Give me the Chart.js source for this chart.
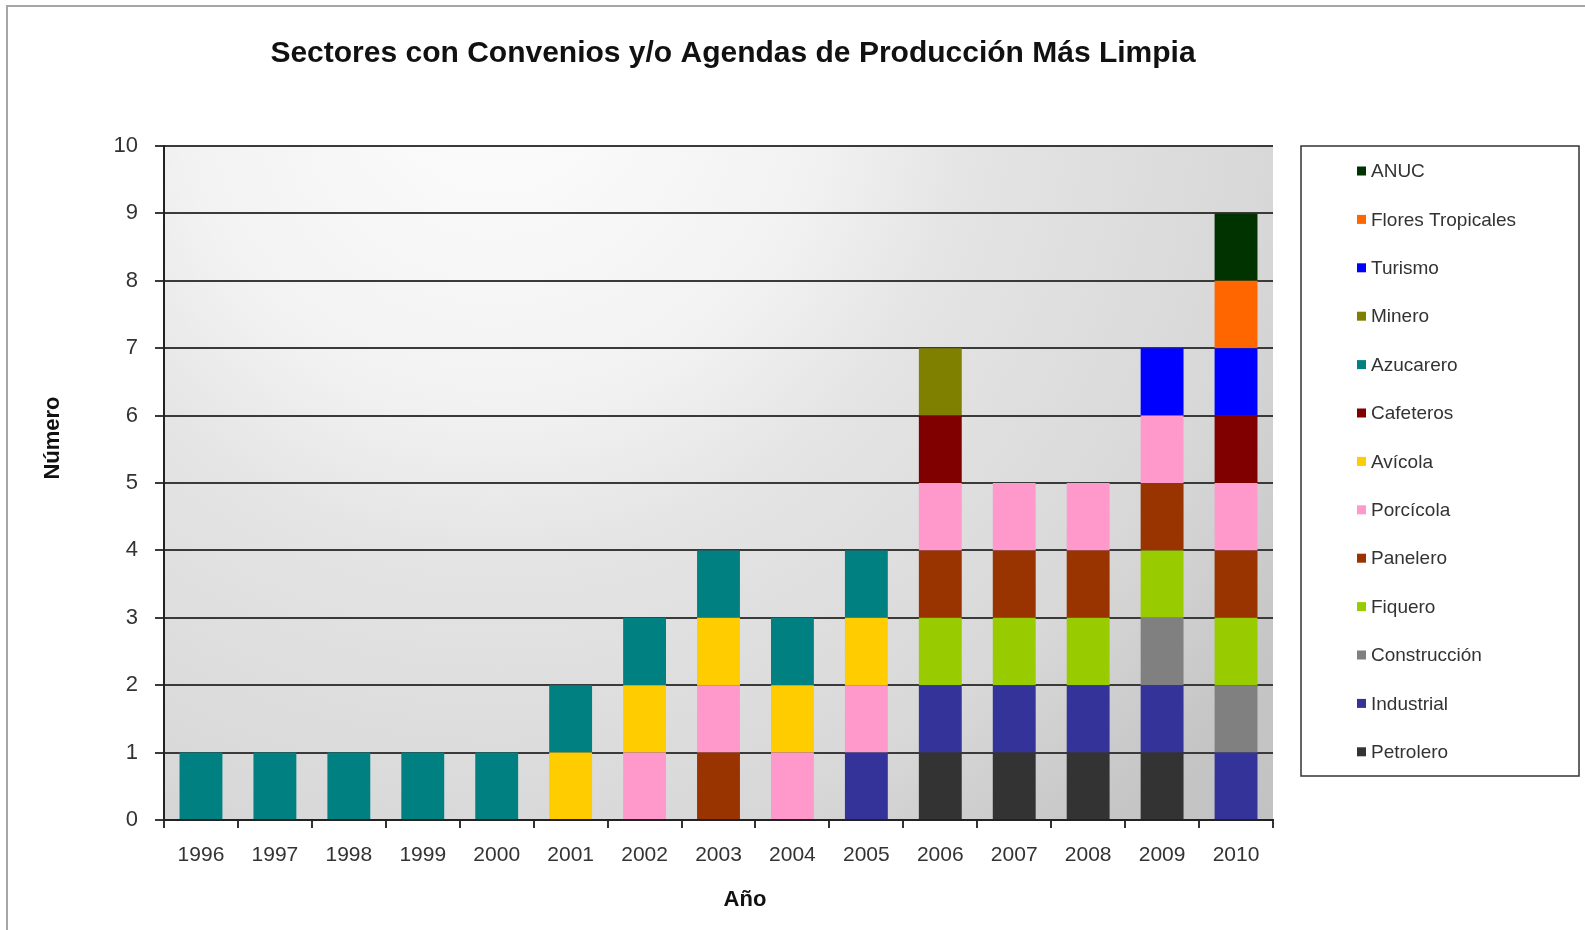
<!DOCTYPE html>
<html>
<head>
<meta charset="utf-8">
<script src="https://cdn.jsdelivr.net/npm/chart.js@4.4.1/dist/chart.umd.min.js"></script>
<style>
  html, body { margin:0; padding:0; background:#fff; }
  #wrap { width:1585px; height:930px; position:relative; }
</style>
</head>
<body>
<div id="wrap"><canvas id="c"></canvas></div>
<script>
// Sectores con convenios / agendas PML por año (stacked, one unit per sector)
const anios = ["1996","1997","1998","1999","2000","2001","2002","2003","2004","2005","2006","2007","2008","2009","2010"];
const petrolero    = [0,0,0,0,0,0,0,0,0,0,1,1,1,1,0];
const industrial   = [0,0,0,0,0,0,0,0,0,1,1,1,1,1,1];
const construccion = [0,0,0,0,0,0,0,0,0,0,0,0,0,1,1];
const fiquero      = [0,0,0,0,0,0,0,0,0,0,1,1,1,1,1];
const panelero     = [0,0,0,0,0,0,0,1,0,0,1,1,1,1,1];
const porcicola    = [0,0,0,0,0,0,1,1,1,1,1,1,1,1,1];
const avicola      = [0,0,0,0,0,1,1,1,1,1,0,0,0,0,0];
const cafeteros    = [0,0,0,0,0,0,0,0,0,0,1,0,0,0,1];
const azucarero    = [1,1,1,1,1,1,1,1,1,1,0,0,0,0,0];
const minero       = [0,0,0,0,0,0,0,0,0,0,1,0,0,0,0];
const turismo      = [0,0,0,0,0,0,0,0,0,0,0,0,0,1,1];
const flores       = [0,0,0,0,0,0,0,0,0,0,0,0,0,0,1];
const anuc         = [0,0,0,0,0,0,0,0,0,0,0,0,0,0,1];
const yTicks = [0,1,2,3,4,5,6,7,8,9,10];

const FONT = "'Liberation Sans', Arial, sans-serif";
const sectores = [
  ["Petrolero", petrolero, "#333333"],
  ["Industrial", industrial, "#333399"],
  ["Construcción", construccion, "#808080"],
  ["Fiquero", fiquero, "#99cc00"],
  ["Panelero", panelero, "#993300"],
  ["Porcícola", porcicola, "#ff99cc"],
  ["Avícola", avicola, "#ffcc00"],
  ["Cafeteros", cafeteros, "#800000"],
  ["Azucarero", azucarero, "#008080"],
  ["Minero", minero, "#808000"],
  ["Turismo", turismo, "#0000ff"],
  ["Flores Tropicales", flores, "#ff6600"],
  ["ANUC", anuc, "#003300"]
];

// background, frame, titles and boxed legend (Excel look)
const deco = {
  id: "deco",
  beforeDraw(ch) {
    const {ctx, chartArea: a} = ch;
    ctx.save();
    ctx.strokeStyle = "#a6a6a6"; ctx.lineWidth = 2;
    ctx.strokeRect(7, 6, ch.width + 20, ch.height + 20);
    // light spot near the top, darker towards the bottom right
    const cx = a.left + a.width * 0.3, cy = a.top - a.height * 0.1;
    const g = ctx.createRadialGradient(cx, cy, 0, cx, cy, Math.hypot(a.right - cx, a.bottom - cy));
    g.addColorStop(0, "#fdfdfd"); g.addColorStop(0.3, "#f2f2f2");
    g.addColorStop(0.45, "#e4e4e4"); g.addColorStop(0.72, "#d8d8d8"); g.addColorStop(0.9, "#c5c5c5");
    g.addColorStop(1, "#c2c2c2");
    ctx.fillStyle = g;
    ctx.fillRect(a.left, a.top, a.width, a.height);
    ctx.restore();
  },
  afterDraw(ch) {
    const {ctx, chartArea: a} = ch;
    ctx.save();
    ctx.fillStyle = "#111";
    ctx.textAlign = "center"; ctx.textBaseline = "middle";
    ctx.font = "bold 30px " + FONT;
    ctx.fillText("Sectores con Convenios y/o Agendas de Producción Más Limpia", 733, 54);
    ctx.font = "bold 22px " + FONT;
    ctx.fillText("Año", 745, 900);
    ctx.translate(53, 438); ctx.rotate(-Math.PI / 2);
    ctx.fillText("Número", 0, 0);
    ctx.restore();

    // legend box
    ctx.save();
    const bx = a.right + 28, by = a.top, bw = ch.width - 6 - bx, bh = 630;
    ctx.strokeStyle = "#333"; ctx.lineWidth = 1.5;
    ctx.strokeRect(bx, by, bw, bh);
    ctx.font = "19px " + FONT; ctx.textAlign = "left"; ctx.textBaseline = "middle";
    const ds = ch.data.datasets.slice().reverse();
    ds.forEach((d, i) => {
      const y = by + 25 + i * 48.4;
      ctx.fillStyle = d.backgroundColor;
      ctx.fillRect(bx + 56, y - 4.5, 9, 9);
      ctx.fillStyle = "#333";
      ctx.fillText(d.label, bx + 70, y + 1);
    });
    ctx.restore();
  }
};

new Chart(document.getElementById("c"), {
  type: "bar",
  data: {
    labels: anios,
    datasets: sectores.map(([label, data, color]) => ({
      label, data, backgroundColor: color, borderWidth: 0,
      barPercentage: 0.58, categoryPercentage: 1
    }))
  },
  options: {
    responsive: true, maintainAspectRatio: false, animation: false,
    layout: { padding: { left: 0, top: 146, right: 312, bottom: 0 } },
    plugins: { legend: { display: false }, title: { display: false }, tooltip: { enabled: false } },
    scales: {
      x: {
        stacked: true,
        afterFit: s => { s.height = 110; },
        grid: { display: true, drawOnChartArea: false, drawTicks: true, tickLength: 8, color: "#333", lineWidth: 2 },
        border: { display: true, color: "#222", width: 2 },
        ticks: { color: "#333", padding: 15, font: { family: FONT, size: 21 }, maxRotation: 0 }
      },
      y: {
        stacked: true, min: 0, max: 10,
        afterFit: s => { s.width = 164; },
        afterBuildTicks: s => { s.ticks = yTicks.map(v => ({value: v})); },
        grid: { color: "#3a3a3a", lineWidth: 2, drawTicks: true, tickLength: 9 },
        border: { display: true, color: "#222", width: 2 },
        ticks: { color: "#333", padding: 17, font: { family: FONT, size: 22 } }
      }
    }
  },
  plugins: [deco]
});
</script>
</body>
</html>
